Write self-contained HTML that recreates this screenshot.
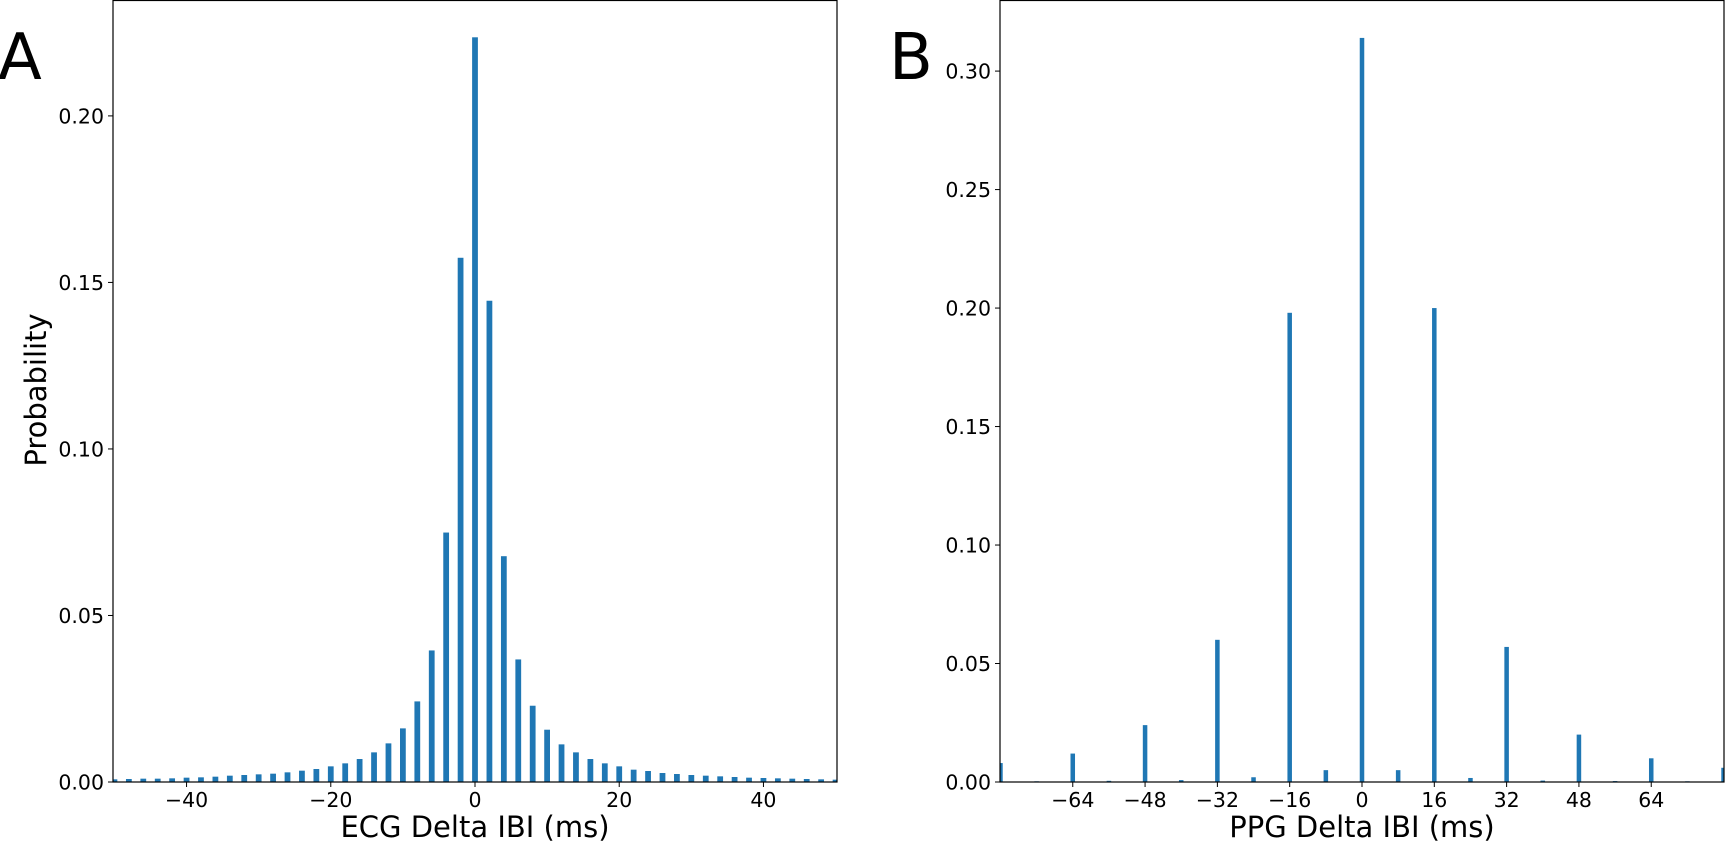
<!DOCTYPE html>
<html><head><meta charset="utf-8">
<style>
html,body{margin:0;padding:0;background:#fff;}
svg{display:block;font-family:"DejaVu Sans","Liberation Sans",sans-serif;}
</style></head>
<body>
<svg id="fig" width="1725" height="842" viewBox="0 0 1725 842" xmlns="http://www.w3.org/2000/svg">
<text x="-2" y="79" font-size="64">A</text>
<text x="889" y="79" font-size="64">B</text>
<text transform="translate(46,390) rotate(-90)" text-anchor="middle" font-size="29">Probability</text>
<text x="475" y="837" text-anchor="middle" font-size="29">ECG Delta IBI (ms)</text>
<text x="1362" y="837" text-anchor="middle" font-size="29">PPG Delta IBI (ms)</text>
<g id="pa"></g>
<g id="pb"></g>
</svg>
<script>
const ecgBins = [-50,-48,-46,-44,-42,-40,-38,-36,-34,-32,-30,-28,-26,-24,-22,-20,-18,-16,-14,-12,-10,-8,-6,-4,-2,0,2,4,6,8,10,12,14,16,18,20,22,24,26,28,30,32,34,36,38,40,42,44,46,48,50];
const ecgProb = [0.0008,0.0009,0.001,0.001,0.0011,0.0013,0.0014,0.0016,0.0019,0.0021,0.0023,0.0025,0.0029,0.0034,0.0039,0.0047,0.0056,0.0069,0.0089,0.0116,0.0161,0.0242,0.0395,0.0749,0.1574,0.2236,0.1445,0.0678,0.0368,0.0229,0.0157,0.0113,0.0089,0.0069,0.0056,0.0047,0.0037,0.0033,0.0027,0.0024,0.0021,0.0019,0.0017,0.0015,0.0013,0.0012,0.0011,0.001,0.0009,0.0008,0.0007];
const ecgXTicks = [-40,-20,0,20,40];
const ecgYTicks = [0,0.05,0.10,0.15,0.20];
const ppgBins = [-80,-72,-64,-56,-48,-40,-32,-24,-16,-8,0,8,16,24,32,40,48,56,64,72,80];
const ppgProb = [0.008,0.0003,0.012,0.0005,0.024,0.0008,0.060,0.002,0.198,0.005,0.314,0.005,0.200,0.0017,0.057,0.0006,0.020,0.0004,0.010,0.0003,0.006];
const ppgXTicks = [-64,-48,-32,-16,0,16,32,48,64];
const ppgYTicks = [0,0.05,0.10,0.15,0.20,0.25,0.30];
const NS="http://www.w3.org/2000/svg";
function el(tag,attrs,parent){const e=document.createElementNS(NS,tag);for(const k in attrs)e.setAttribute(k,attrs[k]);parent.appendChild(e);return e;}
function fmtX(v){return v<0?"\u2212"+Math.abs(v):String(v);}
function panel(g,L,R,T,B,xmin,xmax,ymax,bins,probs,xt,yt,bw,prefix){
  const sx=v=>L+(v-xmin)/(xmax-xmin)*(R-L);
  const sy=v=>B-v/ymax*(B-T);
  const clip=el('clipPath',{id:prefix+'clip'},g);
  el('rect',{x:L,y:T,width:R-L,height:B-T},clip);
  const bg=el('g',{'clip-path':'url(#'+prefix+'clip)'},g);
  bins.forEach((b,i)=>{
    const x0=sx(b-bw/2),x1=sx(b+bw/2),y=sy(probs[i]);
    const r=el('rect',{x:x0,y:y,width:x1-x0,height:B-y,fill:'#1f77b4'},bg);
    
    
  });
  const f=el('rect',{x:L,y:T+0.5,width:R-L,height:B-T-0.5,fill:'none',stroke:'#000','stroke-width':1.2},g);
  
  
  xt.forEach(v=>{
    const x=sx(v);
    el('line',{x1:x,x2:x,y1:B,y2:B+5,stroke:'#000','stroke-width':1},g);
    const t=el('text',{x:x,y:B+25,'text-anchor':'middle','font-size':20.5},g);
    t.textContent=fmtX(v);
    
    
  });
  yt.forEach(v=>{
    const y=sy(v);
    el('line',{x1:L-5,x2:L,y1:y,y2:y,stroke:'#000','stroke-width':1},g);
    const t=el('text',{x:L-9,y:y+7.5,'text-anchor':'end','font-size':20.5},g);
    t.textContent=v.toFixed(2);
    
    
  });
}
panel(document.getElementById('pa'),113,837,0,782,-50.2,50.2,0.2348,ecgBins,ecgProb,ecgXTicks,ecgYTicks,0.8,'ecg');
panel(document.getElementById('pb'),1000,1724,0,782,-80.1,80.1,0.33,ppgBins,ppgProb,ppgXTicks,ppgYTicks,1.0,'ppg');
</script>
</body></html>
